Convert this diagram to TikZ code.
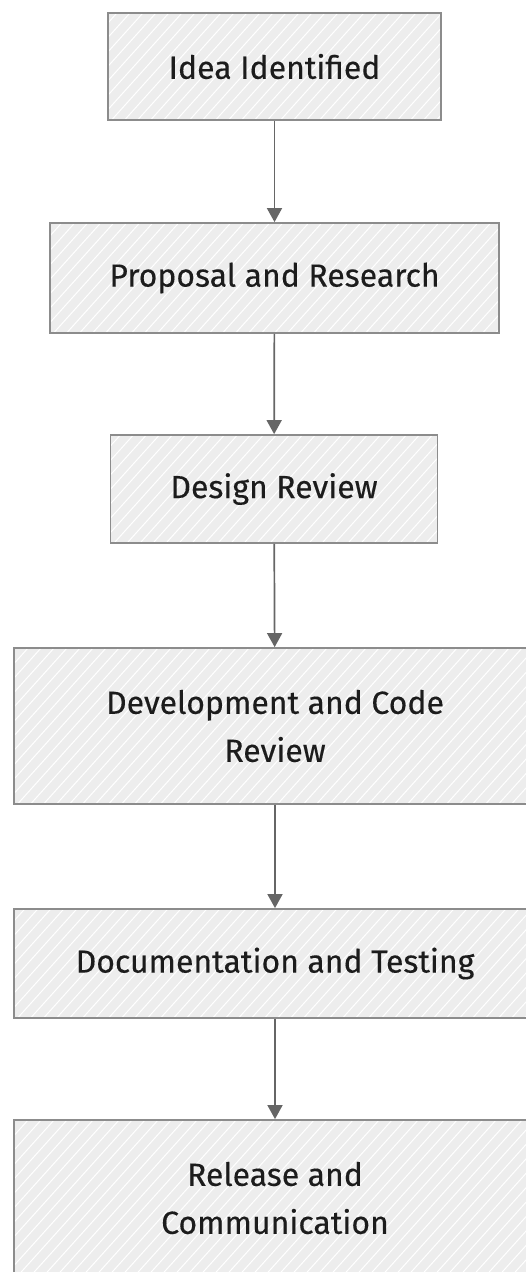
\documentclass[tikz,border=0pt]{standalone}
\usepackage{fontspec}
\setmainfont{Fira Sans}
\newfontfamily\labelfont{Fira Sans}[FakeBold=0.3]
\usetikzlibrary{arrows.meta,calc}

\definecolor{boxfill}{HTML}{EDEDED}
\definecolor{boxline}{HTML}{8C8C8C}
\definecolor{flowline}{HTML}{666666}
\definecolor{labeltext}{HTML}{1C1C1C}

\tikzset{
  stagebox/.style={
    draw=boxline, line width=1.8pt, fill=boxfill,
    text=labeltext, align=center, inner sep=0pt,
    font=\labelfont\fontsize{32}{48}\selectfont,
    path picture={
      \foreach \k in {-14,...,42}
        \draw[white, line width=1pt]
          ($(path picture bounding box.south west)+(\k*13pt,-4pt)$) -- ++(48:260pt);
    }
  },
  flow/.style={draw=flowline, line width=1.7pt,
    -{Triangle[length=14pt,width=15pt]}}
}

\begin{document}
\begin{tikzpicture}[x=1pt,y=-1pt]
  \useasboundingbox (0,0) rectangle (525,1272);

  \node[stagebox, minimum width=333pt, minimum height=107pt] (idea)   at (274.5,66.5) {Idea Identified};
  \node[stagebox, minimum width=449pt, minimum height=110pt] (prop)   at (274.5,278)  {Proposal and Research};
  \node[stagebox, minimum width=327pt, minimum height=108pt] (design) at (274,489)    {Design Review};
  \node[stagebox, minimum width=522pt, minimum height=156pt] (dev)    at (275,726)    {Development and Code\\Review};
  \node[stagebox, minimum width=522pt, minimum height=109pt] (docs)   at (275,963.5)  {Documentation and Testing};
  \node[stagebox, minimum width=522pt, minimum height=156pt] (rel)    at (275,1198)   {Release and\\Communication};

  \draw[flow] (idea)   -- (prop);
  \draw[flow] (prop)   -- (design);
  \draw[flow] (design) -- (dev);
  \draw[flow] (dev)    -- (docs);
  \draw[flow] (docs)   -- (rel);
\end{tikzpicture}
\end{document}
